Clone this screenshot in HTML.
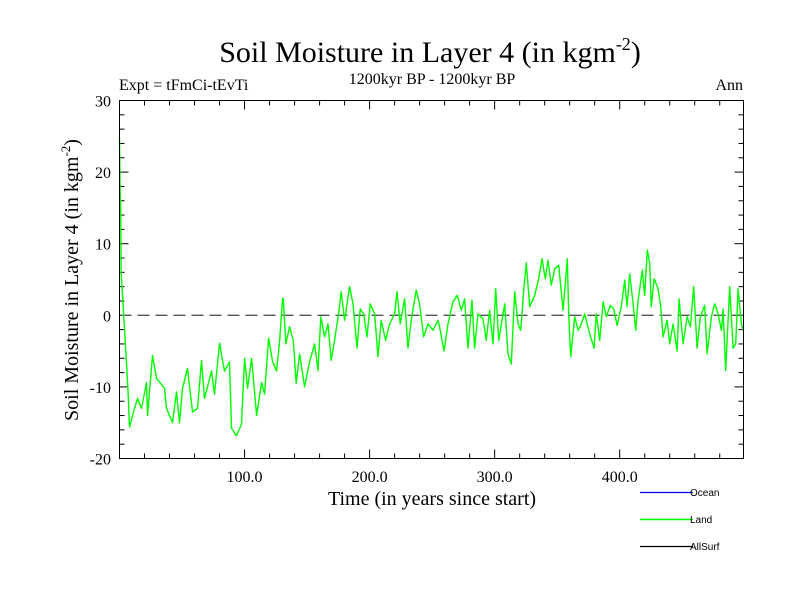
<!DOCTYPE html>
<html><head><meta charset="utf-8"><style>
body{margin:0;background:#fff;}
svg{display:block;font-family:"Liberation Serif",serif;}
</style></head><body>
<svg id="chart" width="800" height="600">
<text x="430" y="62" font-size="30" text-anchor="middle">Soil Moisture in Layer 4 (in kgm<tspan dy="-12" font-size="18">-2</tspan><tspan dy="12">)</tspan></text>
<text x="432" y="84" font-size="16" text-anchor="middle">1200kyr BP - 1200kyr BP</text>
<text x="119" y="90" font-size="16">Expt = tFmCi-tEvTi</text>
<text x="743" y="90" font-size="16" text-anchor="end">Ann</text>
<text transform="translate(78,280) rotate(-90)" font-size="20" text-anchor="middle">Soil Moisture in Layer 4 (in kgm<tspan dy="-8" font-size="13">-2</tspan><tspan dy="8">)</tspan></text>
<text x="432" y="505" font-size="20" text-anchor="middle">Time (in years since start)</text>
<g id="axes"></g>
<g id="series"></g>
<rect x="119.5" y="100.5" width="624" height="358" fill="none" stroke="#000" stroke-width="1"/>
<g font-family="Liberation Sans, sans-serif" font-size="10">
<line x1="640" y1="492.5" x2="693" y2="492.5" stroke="#0000ff" stroke-width="1.2"/>
<text x="690" y="496">Ocean</text>
<line x1="640" y1="519.5" x2="693" y2="519.5" stroke="#00ff00" stroke-width="1.5"/>
<text x="690" y="523">Land</text>
<line x1="640" y1="546.5" x2="693" y2="546.5" stroke="#000" stroke-width="1.2"/>
<text x="690" y="550">AllSurf</text>
</g>
</svg>
<script>
const years=[0,0.5,1,1.3,4,6.7,8,12,14.4,17.6,21.6,22.5,26.4,29.6,36,37.6,42.4,45.6,48,50.4,54.4,58.4,62.4,65.6,68,73.6,76,80,84,88,89.6,93.6,97.6,100,102.4,105.6,109.6,113.6,116,119.2,122.4,125.6,128,130.4,131,133,136,139,141.3,144,148,152,156,158.7,161,164,166.7,169.3,172,175.5,177.3,180,184,186.7,189.9,192.5,195.2,197.9,200.5,204,206.7,209.3,212.8,216,220,221.9,224.5,228,230.7,233.3,237.3,240,243.2,246.7,250.7,254.7,256,259.5,262.7,266.7,270.1,273.3,276,278.7,281.9,284,286.7,290.7,293.3,296,298.7,300.8,303.2,308,310.7,313.3,316,318.7,320.8,323.5,325.3,328,332,335.2,337.9,340.5,342.7,345.3,348,351.2,354.7,358.1,359.2,360.8,364,366.7,369.3,372,376,379.5,381.3,384,386.7,389.3,392.5,395.2,397.9,401.3,404,405.9,408,410.7,412.8,414.7,418.1,420,422.1,424,425.3,427.5,430.7,432.8,434.7,437.9,440,442.7,445.9,447.5,450.7,453.9,456.5,459.2,461.9,464.5,468,469.9,473.3,476,478.7,481.3,482.7,484.8,488,490.7,492.8,494.7,497.3,498.7];
const landValues=[24.7,17.7,14,6,-1.8,-10.2,-15.6,-13,-11.6,-13,-9.4,-14,-5.6,-8.8,-10.2,-13,-15,-10.7,-15,-10.2,-7.4,-13.5,-13,-6.3,-11.6,-7.8,-11,-3.9,-7.8,-6.5,-15.8,-16.8,-15.2,-6,-10.2,-6,-14,-9.4,-11,-3.2,-6.5,-7.8,-3.6,2.4,2.3,-4,-1.6,-3.5,-9.5,-5.4,-10,-6.5,-4,-7.7,-0.2,-3,-1.2,-6.3,-3.5,0.7,3.3,-0.7,4,1.6,-4.6,0.9,0.2,-3,1.6,0.2,-5.8,-0.7,-3.5,-1.2,0.2,3.3,-1.2,2.3,-4.6,-0.7,3.5,1.6,-3,-1.2,-2.1,-0.7,-1.6,-5,-1.2,1.9,2.8,0.7,2.3,-4.6,2.1,-4.6,0.2,-0.5,-3.5,0.7,-4,3.7,-3.5,1.6,-5.4,-6.8,3.3,-1.2,-2.1,4,7.3,1.2,2.8,5.1,7.9,5.1,7.7,4.2,6.5,7,0.7,7.9,0.2,-5.8,-0.2,-2.1,-1.2,0.2,-2.6,-4.6,0.2,-3.5,1.9,-0.2,1.4,0.9,-1.4,1.2,4.9,1.2,5.8,1.6,-2.1,2.1,6.3,2.8,9.1,7.3,1.2,5.1,3.7,1.2,-3,-0.7,-4,-1.2,-5,2.3,-4,-0.2,-1.6,4,-4.6,-0.2,1.4,-5.4,-0.2,1.6,0.2,-2.1,0.9,-7.7,4,-4.6,-4,3.7,-1.2,-2.1];
const yTicks=[-20,-10,0,10,20,30];
const xTickLabels=["100.0","200.0","300.0","400.0"];
const xTickValues=[100,200,300,400];
const X0=119.5,X1=743.5,Y0=458.5,Y1=100.5,XMIN=0,XMAX=499,YMIN=-20,YMAX=30;
const sx=v=>X0+(v-XMIN)/(XMAX-XMIN)*(X1-X0);
const sy=v=>Y0-(v-YMIN)/(YMAX-YMIN)*(Y0-Y1);
const NS="http://www.w3.org/2000/svg";
const axes=document.getElementById('axes');
function mk(tag,attrs,parent){const e=document.createElementNS(NS,tag);for(const k in attrs)e.setAttribute(k,attrs[k]);parent.appendChild(e);return e;}
for(let v=YMIN;v<=YMAX;v+=2){
  const major=v%10===0,len=major?9:5,y=sy(v);
  const t1=mk('line',{x1:X0,x2:X0+len,y1:y,y2:y,stroke:'#000'},axes);
  
  
  const t2=mk('line',{x1:X1,x2:X1-len,y1:y,y2:y,stroke:'#000'},axes);
  
  
}
yTicks.forEach(v=>{
  const t=mk('text',{x:111,y:sy(v)+6,'font-size':16,'text-anchor':'end'},axes);
  t.textContent=v;
  
  
});
for(let v=20;v<XMAX;v+=20){
  const major=v%100===0,len=major?9:5,x=sx(v);
  const t1=mk('line',{x1:x,x2:x,y1:Y0,y2:Y0-len,stroke:'#000'},axes);
  
  
  const t2=mk('line',{x1:x,x2:x,y1:Y1,y2:Y1+len,stroke:'#000'},axes);
  
  
}
xTickValues.forEach((v,i)=>{
  const t=mk('text',{x:sx(v),y:482,'font-size':16,'text-anchor':'middle'},axes);
  t.textContent=xTickLabels[i];
  
  
});
const zl=mk('line',{x1:X0,x2:X1,y1:sy(0),y2:sy(0),stroke:'#555','stroke-width':1.3,'stroke-dasharray':'12,6'},axes);


const ser=document.getElementById('series');
const pts=years.map((x,i)=>sx(x).toFixed(1)+','+sy(landValues[i]).toFixed(1)).join(' ');
const pl=mk('polyline',{points:pts,fill:'none',stroke:'#00ff00','stroke-width':1.4,'stroke-linejoin':'round'},ser);


</script>
</body></html>
